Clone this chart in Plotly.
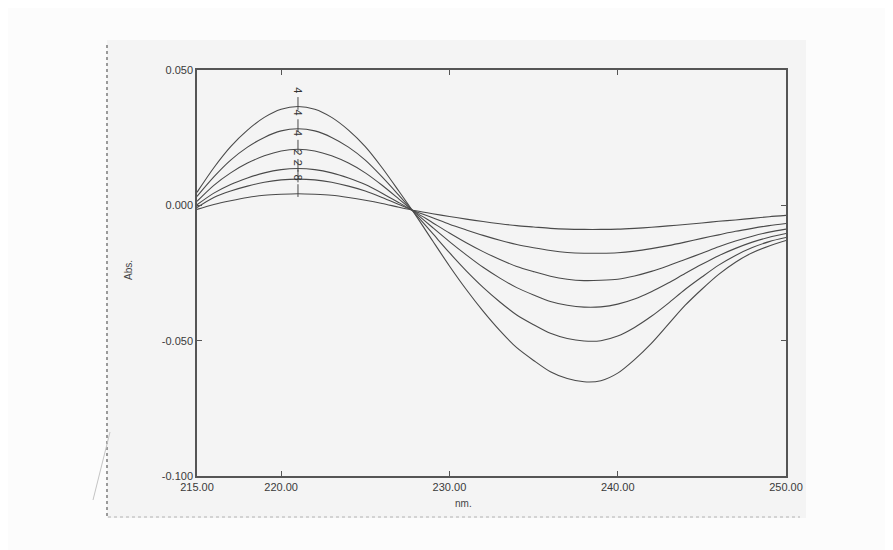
import plotly.graph_objects as go

# Wavelength axis (nm)
wavelength = list(range(215, 251))

# Absorbance (derivative) spectra, smallest to largest amplitude
curve1 = [-0.0015, 0.0003, 0.0017, 0.0029, 0.0037, 0.0041, 0.0043, 0.0041, 0.0037, 0.0029, 0.0019, 0.0007, -0.0007,
          -0.0020, -0.0031, -0.0041, -0.0051, -0.0060, -0.0068, -0.0075, -0.0080, -0.0085, -0.0088, -0.0089,
          -0.0089, -0.0088, -0.0085, -0.0081, -0.0076, -0.0071, -0.0065, -0.0059, -0.0054, -0.0048, -0.0042, -0.0037]
curve2 = [-0.0008, 0.0029, 0.0053, 0.0071, 0.0085, 0.0094, 0.0097, 0.0094, 0.0085, 0.0071, 0.0053, 0.0029, 0.0003,
          -0.0023, -0.0046, -0.0070, -0.0091, -0.0111, -0.0129, -0.0145, -0.0157, -0.0167, -0.0174, -0.0177,
          -0.0177, -0.0175, -0.0169, -0.0160, -0.0149, -0.0136, -0.0122, -0.0109, -0.0096, -0.0085, -0.0075, -0.0067]
curve3 = [0.0002, 0.0045, 0.0077, 0.0101, 0.0120, 0.0132, 0.0136, 0.0132, 0.0120, 0.0101, 0.0077, 0.0045, 0.0010,
          -0.0026, -0.0064, -0.0102, -0.0138, -0.0171, -0.0200, -0.0226, -0.0245, -0.0262, -0.0273, -0.0278,
          -0.0277, -0.0273, -0.0261, -0.0244, -0.0223, -0.0200, -0.0177, -0.0153, -0.0132, -0.0114, -0.0099, -0.0088]
curve4 = [0.0015, 0.0074, 0.0120, 0.0156, 0.0183, 0.0201, 0.0207, 0.0201, 0.0183, 0.0156, 0.0120, 0.0074, 0.0023,
          -0.0029, -0.0082, -0.0134, -0.0183, -0.0229, -0.0269, -0.0304, -0.0331, -0.0355, -0.0369, -0.0376,
          -0.0375, -0.0365, -0.0346, -0.0319, -0.0287, -0.0252, -0.0218, -0.0186, -0.0159, -0.0136, -0.0118, -0.0104]
curve5 = [0.0033, 0.0105, 0.0167, 0.0215, 0.0251, 0.0275, 0.0283, 0.0275, 0.0251, 0.0215, 0.0167, 0.0105, 0.0037,
          -0.0033, -0.0104, -0.0175, -0.0242, -0.0303, -0.0357, -0.0405, -0.0441, -0.0473, -0.0492, -0.0501,
          -0.0500, -0.0483, -0.0451, -0.0410, -0.0362, -0.0311, -0.0265, -0.0221, -0.0185, -0.0156, -0.0134, -0.0119]
curve6 = [0.0048, 0.0139, 0.0217, 0.0278, 0.0325, 0.0355, 0.0365, 0.0355, 0.0325, 0.0278, 0.0217, 0.0139, 0.0052,
          -0.0037, -0.0131, -0.0224, -0.0311, -0.0391, -0.0463, -0.0526, -0.0573, -0.0615, -0.0640, -0.0652,
          -0.0648, -0.0620, -0.0570, -0.0510, -0.0440, -0.0370, -0.0310, -0.0255, -0.0210, -0.0175, -0.0150, -0.0130]

curves = [curve1, curve2, curve3, curve4, curve5, curve6]
peak_labels = ["8", "2", "2", "4", "4", "4"]

x_tickvals = [215, 220, 230, 240, 250]
x_ticktext = ["215.00", "220.00", "230.00", "240.00", "250.00"]
y_tickvals = [0.05, 0.0, -0.05, -0.1]
y_ticktext = ["0.050", "0.000", "-0.050", "-0.100"]

# the page body adds an 8 px offset; window pixel positions below are converted accordingly
OFF = 8
W, H = 893 - OFF, 550 - OFF
PLOT_L, PLOT_R, PLOT_T, PLOT_B = 197, 786, 70, 476      # in window pixels
ML, MT = PLOT_L - OFF, PLOT_T - OFF
PW, PH = PLOT_R - PLOT_L, PLOT_B - PLOT_T
MR, MB = W - ML - PW, H - MT - PH


def px_x(p):
    return (p - PLOT_L) / PW


def px_y(p):
    return (PLOT_B - p) / PH


LINE = "#4a4a4a"
FAM = "Liberation Sans, Arial, sans-serif"
TXT = "#3a3a3a"

fig = go.Figure()
for ys in curves:
    fig.add_trace(go.Scatter(x=wavelength, y=ys, mode="lines",
                             line=dict(color=LINE, width=1.1, shape="spline", smoothing=0.8),
                             hoverinfo="skip", showlegend=False))

shapes = []
annotations = []

# scanned page background and edges
shapes.append(dict(type="rect", xref="paper", yref="paper", x0=px_x(107), x1=px_x(806),
                   y0=px_y(518), y1=px_y(40), fillcolor="#f4f4f4", line=dict(width=0), layer="below"))
shapes.append(dict(type="line", xref="paper", yref="paper", x0=px_x(107), x1=px_x(107),
                   y0=px_y(516), y1=px_y(45), line=dict(color="#9a9a9a", width=2, dash="dot"), layer="below"))
shapes.append(dict(type="line", xref="paper", yref="paper", x0=px_x(108), x1=px_x(800),
                   y0=px_y(517), y1=px_y(517), line=dict(color="#c8c8c8", width=1.5, dash="dot"), layer="below"))
shapes.append(dict(type="line", xref="paper", yref="paper", x0=px_x(93), x1=px_x(110),
                   y0=px_y(500), y1=px_y(432), line=dict(color="#c4c4c4", width=1), layer="below"))

# peak markers with rotated labels
for ys, lab in zip(curves, peak_labels):
    k = max(range(len(ys)), key=lambda i: ys[i])
    xp, yp = wavelength[k], ys[k]
    shapes.append(dict(type="line", xref="x", yref="y", x0=xp, x1=xp, y0=yp - 0.0012, y1=yp + 0.0035,
                       line=dict(color=LINE, width=1)))
    annotations.append(dict(x=xp, y=yp + 0.0060, xref="x", yref="y", text=lab, showarrow=False,
                            xanchor="center", yanchor="middle",
                            textangle=90, font=dict(family=FAM, size=11, color="#333")))

annotations.append(dict(x=px_x(463), y=px_y(503), xref="paper", yref="paper", text="nm.",
                        xanchor="center", yanchor="middle",
                        showarrow=False, font=dict(family=FAM, size=10, color="#444")))
annotations.append(dict(x=px_x(128), y=px_y(270), xref="paper", yref="paper", text="Abs.",
                        xanchor="center", yanchor="middle",
                        showarrow=False, textangle=-90, font=dict(family=FAM, size=10, color="#444")))

fig.update_layout(
    width=W, height=H,
    margin=dict(l=ML, r=MR, t=MT, b=MB, autoexpand=False),
    paper_bgcolor="#fcfcfc",
    plot_bgcolor="rgba(0,0,0,0)",
    font=dict(family=FAM, size=11, color=TXT),
    shapes=shapes,
    annotations=annotations,
    showlegend=False,
)
axis_common = dict(showline=True, linecolor="#555", linewidth=1.5, mirror="ticks",
                   ticks="inside", ticklen=5, tickcolor="#555", showgrid=False, zeroline=False,
                   tickfont=dict(family=FAM, size=11, color=TXT))
fig.update_xaxes(range=[215, 250], tickvals=x_tickvals, ticktext=x_ticktext, **axis_common)
fig.update_yaxes(range=[-0.1, 0.05], tickvals=y_tickvals, ticktext=y_ticktext, **axis_common)

fig.write_html("out.html")
